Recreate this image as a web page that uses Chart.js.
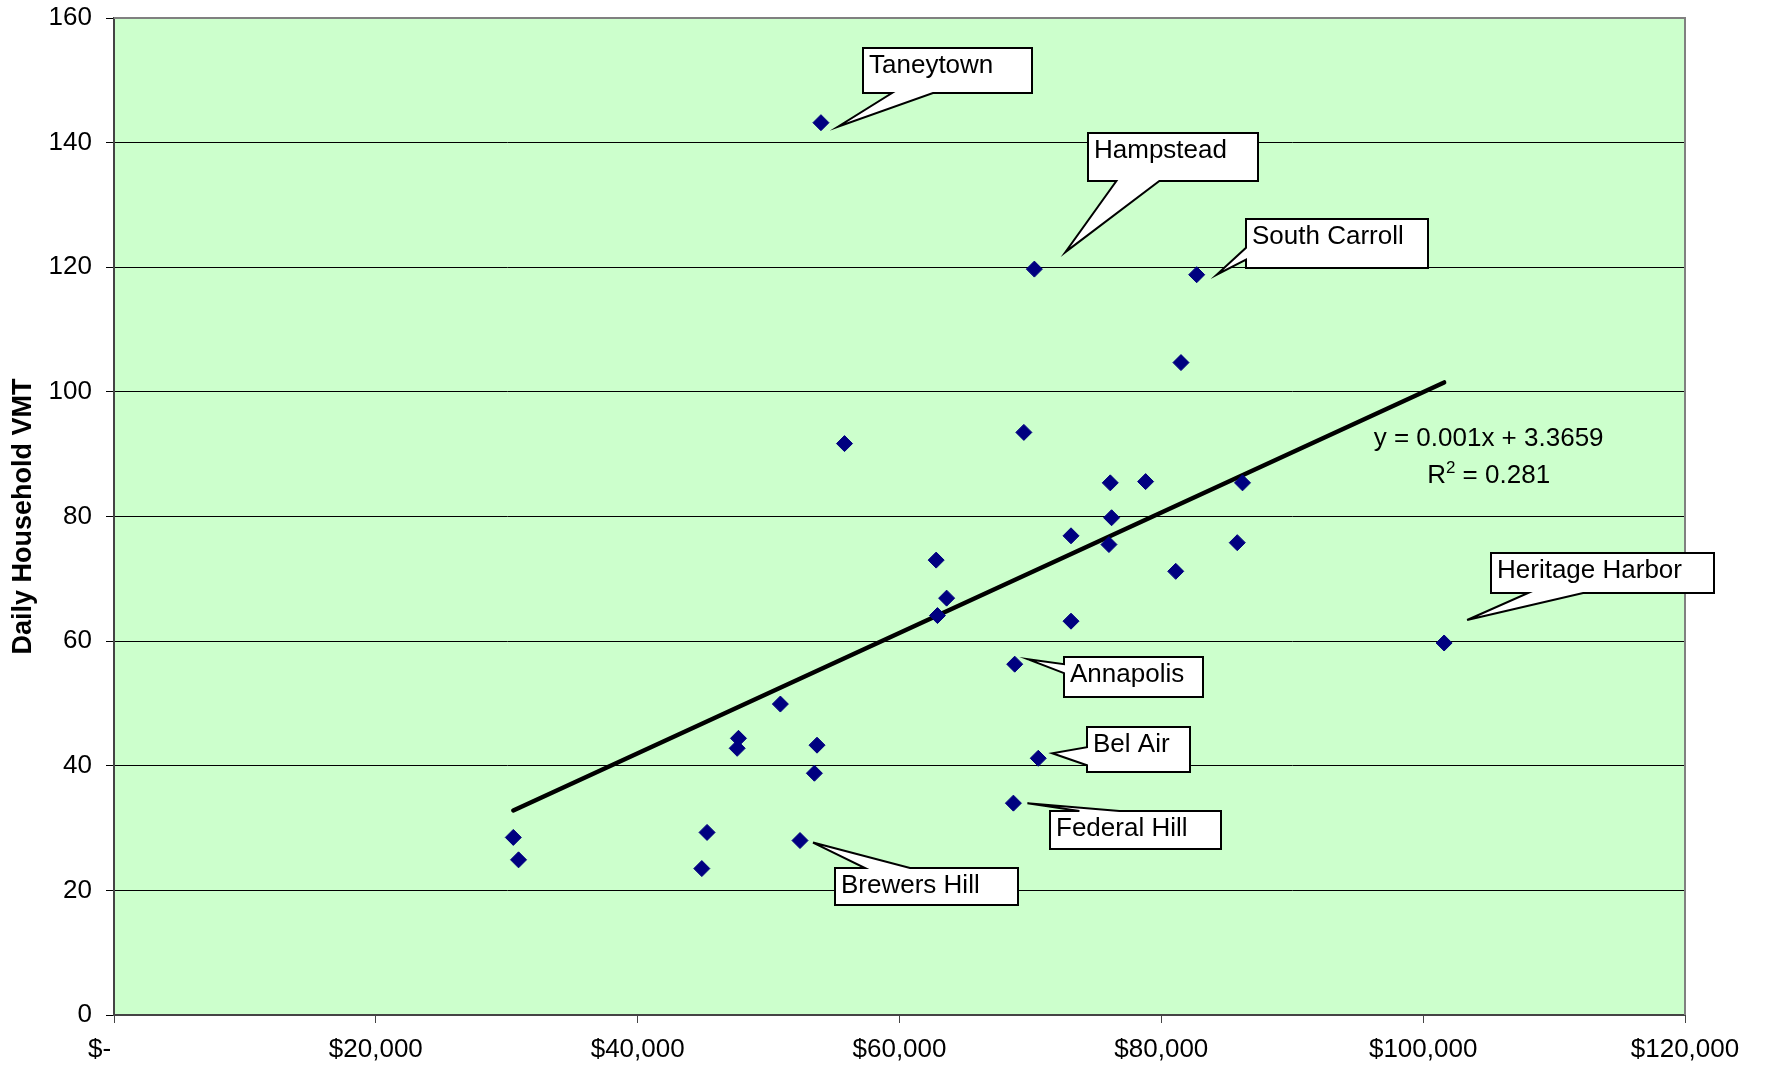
<!DOCTYPE html>
<html>
<head>
<meta charset="utf-8">
<script src="https://cdn.jsdelivr.net/npm/chart.js@4.4.0/dist/chart.umd.min.js"></script>
<style>
  html, body { margin: 0; padding: 0; background: #ffffff; }
  #wrap { width: 1765px; height: 1069px; position: relative; }
</style>
</head>
<body>
<div id="wrap"><canvas id="c" width="1765" height="1069"></canvas></div>
<script>
// Median household income ($) per community
const income = [30500, 30900, 44900, 45300, 47600, 47700, 50900, 52400, 53500, 53700,
                54000, 55800, 62800, 62900, 63600, 68700, 68800, 69500, 70300, 70600,
                73100, 73100, 76000, 76100, 76200, 78800, 81100, 81500, 82700, 85800,
                86200, 101600];
// Daily household vehicle miles travelled
const vmt = [28.5, 24.9, 23.5, 29.3, 42.8, 44.4, 49.9, 28.0, 38.8, 43.3,
             143.2, 91.7, 73.0, 64.1, 66.9, 34.0, 56.3, 93.5, 119.7, 41.2,
             76.9, 63.2, 75.5, 85.4, 79.8, 85.6, 71.2, 104.7, 118.8, 75.8,
             85.4, 59.7];
// Community names shown in callouts ('' = unlabelled)
const placeName = ['', '', '', '', '', '', '', 'Brewers Hill', '', '',
                   'Taneytown', '', '', '', '', 'Federal Hill', 'Annapolis', '', 'Hampstead', 'Bel Air',
                   '', '', '', '', '', '', '', '', 'South Carroll', '',
                   '', 'Heritage Harbor'];
const xTickValues = [0, 20000, 40000, 60000, 80000, 100000, 120000];
const yTickValues = [0, 20, 40, 60, 80, 100, 120, 140, 160];
// Linear trend fitted to the scatter
const trendSlope = 0.000966;
const trendIntercept = 3.3659;
const rSquared = 0.281;

const FONT = "'Liberation Sans', Arial, sans-serif";
const TEXT_SIZE = 26;

const points = income.map((v, i) => ({ x: v, y: vmt[i] }));
const xMin = Math.min(...income), xMax = Math.max(...income);
const trendPoints = [xMin, xMax].map(v => ({ x: v, y: trendSlope * v + trendIntercept }));

// Callout geometry in pixels relative to the labelled point:
// box = [dx, dy, w, h], tip = pointer tip, side/base = where the pointer leaves the box
const calloutLayout = {
  'Taneytown':       { box: [42, -75, 169, 45], tip: [17, 4],   side: 'bottom', base: [71, 112] },
  'Hampstead':       { box: [54, -136, 170, 48], tip: [31, -17], side: 'bottom', base: [82, 125] },
  'South Carroll':   { box: [49, -56, 182, 49], tip: [20, 0],   side: 'left',   base: [-27, -15] },
  'Heritage Harbor': { box: [47, -90, 223, 40], tip: [23, -23], side: 'bottom', base: [84, 139] },
  'Annapolis':       { box: [49, -7, 139, 40],  tip: [13, -5],  side: 'left',   base: [0, 9] },
  'Bel Air':         { box: [49, -31, 103, 45], tip: [14, -5],  side: 'left',   base: [-11, 7] },
  'Federal Hill':    { box: [37, 8, 171, 38],   tip: [14, 0],   side: 'top',    base: [66, 106] },
  'Brewers Hill':    { box: [35, 27, 183, 37],  tip: [13, 2],   side: 'top',    base: [65, 110] }
};

function drawCallout(ctx, px, py, name, L) {
  const x0 = Math.round(px + L.box[0]), y0 = Math.round(py + L.box[1]);
  const x1 = x0 + L.box[2], y1 = y0 + L.box[3];
  const tx = px + L.tip[0], ty = py + L.tip[1];
  const a = L.base[0], b = L.base[1];
  ctx.save();
  ctx.beginPath();
  ctx.moveTo(x0, y0);
  if (L.side === 'top') { ctx.lineTo(px + a, y0); ctx.lineTo(tx, ty); ctx.lineTo(px + b, y0); }
  ctx.lineTo(x1, y0);
  ctx.lineTo(x1, y1);
  if (L.side === 'bottom') { ctx.lineTo(px + b, y1); ctx.lineTo(tx, ty); ctx.lineTo(px + a, y1); }
  ctx.lineTo(x0, y1);
  if (L.side === 'left') { ctx.lineTo(x0, py + b); ctx.lineTo(tx, ty); ctx.lineTo(x0, py + a); }
  ctx.closePath();
  ctx.fillStyle = '#ffffff';
  ctx.fill();
  ctx.lineWidth = 2;
  ctx.lineJoin = 'miter';
  ctx.strokeStyle = '#000000';
  ctx.stroke();
  ctx.fillStyle = '#000000';
  ctx.font = TEXT_SIZE + 'px ' + FONT;
  ctx.textAlign = 'left';
  ctx.textBaseline = 'alphabetic';
  ctx.fillText(name, x0 + 6, y0 + 25);
  ctx.restore();
}

const plotDecor = {
  id: 'plotDecor',
  beforeDraw(chart) {
    const { ctx, chartArea: ca } = chart;
    ctx.save();
    ctx.fillStyle = '#CCFFCC';
    ctx.fillRect(ca.left, ca.top, ca.right - ca.left, ca.bottom - ca.top);
    ctx.restore();
  },
  afterDraw(chart) {
    const { ctx, chartArea: ca, scales } = chart;
    // top and right frame of the plot area
    ctx.save();
    ctx.strokeStyle = '#808080';
    ctx.lineWidth = 2;
    ctx.beginPath();
    ctx.moveTo(ca.left, ca.top);
    ctx.lineTo(ca.right, ca.top);
    ctx.lineTo(ca.right, ca.bottom);
    ctx.stroke();
    ctx.restore();

    // trend equation
    const ex = scales.x.getPixelForValue(105000);
    const ey = scales.y.getPixelForValue(91.3);
    ctx.save();
    ctx.fillStyle = '#000000';
    ctx.textBaseline = 'alphabetic';
    ctx.font = TEXT_SIZE + 'px ' + FONT;
    ctx.textAlign = 'center';
    const eq = 'y = ' + trendSlope.toFixed(3) + 'x + ' + trendIntercept.toFixed(4);
    ctx.fillText(eq, ex, ey);
    const rest = ' = ' + rSquared.toFixed(3);
    const wR = ctx.measureText('R').width;
    const wRest = ctx.measureText(rest).width;
    ctx.font = '17px ' + FONT;
    const w2 = ctx.measureText('2').width;
    const total = wR + w2 + wRest;
    let cx = ex - total / 2;
    const by = ey + 37;
    ctx.textAlign = 'left';
    ctx.font = TEXT_SIZE + 'px ' + FONT;
    ctx.fillText('R', cx, by);
    cx += wR;
    ctx.font = '17px ' + FONT;
    ctx.fillText('2', cx, by - 10);
    cx += w2;
    ctx.font = TEXT_SIZE + 'px ' + FONT;
    ctx.fillText(rest, cx, by);
    ctx.restore();

    // callouts
    placeName.forEach((name, i) => {
      if (!name || !calloutLayout[name]) return;
      const px = scales.x.getPixelForValue(income[i]);
      const py = scales.y.getPixelForValue(vmt[i]);
      drawCallout(ctx, px, py, name, calloutLayout[name]);
    });
  }
};

new Chart(document.getElementById('c'), {
  type: 'scatter',
  data: {
    datasets: [
      {
        type: 'line',
        data: trendPoints,
        borderColor: '#000000',
        borderWidth: 4.5,
        borderCapStyle: 'round',
        pointRadius: 0,
        fill: false,
        order: 2
      },
      {
        data: points,
        pointStyle: 'rectRot',
        pointRadius: 8,
        backgroundColor: '#000080',
        borderColor: '#000080',
        borderWidth: 1,
        order: 1
      }
    ]
  },
  options: {
    responsive: false,
    animation: false,
    devicePixelRatio: 1,
    layout: { padding: { top: 18, right: 80, left: 0, bottom: 0 } },
    plugins: { legend: { display: false }, tooltip: { enabled: false } },
    scales: {
      x: {
        type: 'linear',
        min: 0,
        max: 120000,
        afterBuildTicks: s => { s.ticks = xTickValues.map(v => ({ value: v })); },
        afterFit: s => { s.height = 54; },
        ticks: {
          color: '#000000',
          font: { family: FONT, size: TEXT_SIZE },
          padding: 11,
          maxRotation: 0,
          callback: v => v === 0 ? '$-    ' : '$' + v.toLocaleString('en-US')
        },
        grid: { drawOnChartArea: false, drawTicks: true, tickLength: 8, color: '#444444', lineWidth: 1 },
        border: { display: true, color: '#444444', width: 2 }
      },
      y: {
        min: 0,
        max: 160,
        afterBuildTicks: s => { s.ticks = yTickValues.map(v => ({ value: v })); },
        afterFit: s => { s.width = 114; s.paddingTop = 0; s.paddingBottom = 0; },
        ticks: {
          color: '#000000',
          font: { family: FONT, size: TEXT_SIZE },
          padding: 14
        },
        grid: { color: '#000000', lineWidth: 1, tickLength: 8, drawTicks: true },
        border: { display: true, color: '#444444', width: 2 },
        title: {
          display: true,
          text: 'Daily Household VMT',
          color: '#000000',
          font: { family: FONT, size: 27, weight: 'bold' },
          padding: { top: 7, bottom: 0 }
        }
      }
    }
  },
  plugins: [plotDecor]
});
</script>
</body>
</html>
